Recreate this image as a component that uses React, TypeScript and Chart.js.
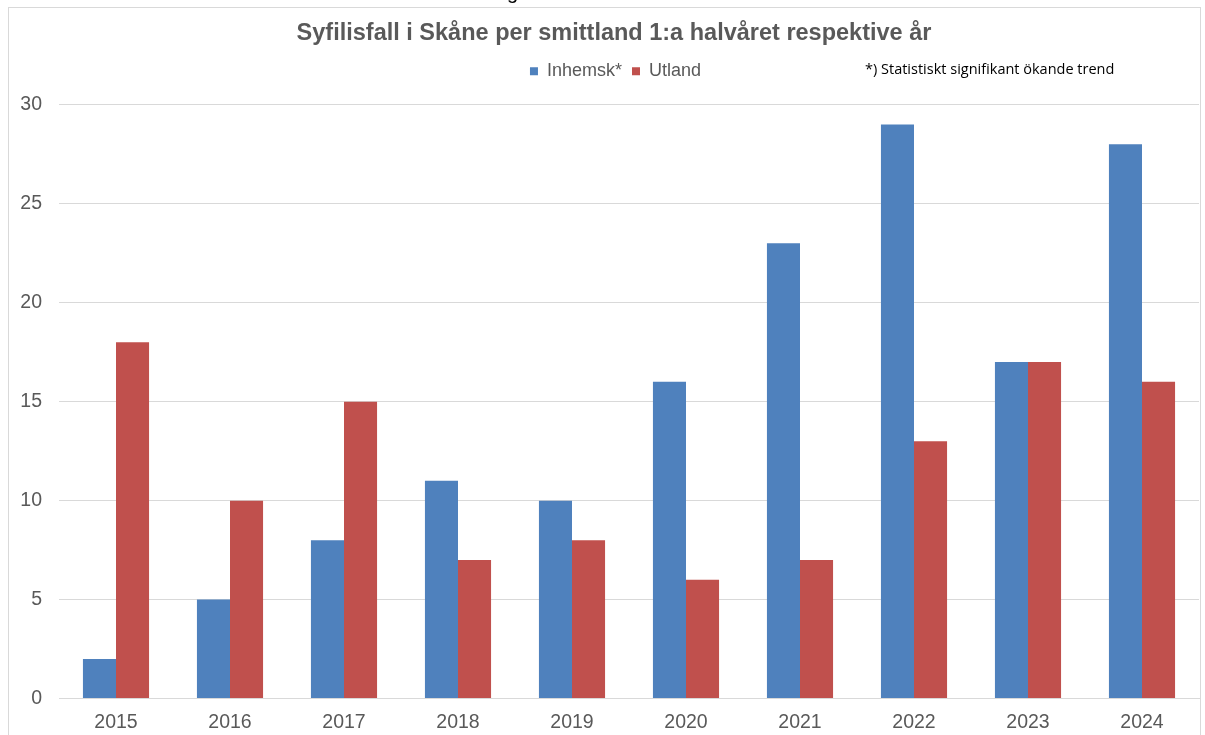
import React, { useEffect, useRef } from "react";
import { Chart, registerables } from "chart.js";

Chart.register(...registerables);

const years = ["2015", "2016", "2017", "2018", "2019", "2020", "2021", "2022", "2023", "2024"];
const inhemsk = [2, 5, 8, 11, 10, 16, 23, 29, 17, 28];
const utland = [18, 10, 15, 7, 8, 6, 7, 13, 17, 16];
const seriesNames = ["Inhemsk*", "Utland"];
const titleText = "Syfilisfall i Skåne per smittland 1:a halvåret respektive år";
const noteText = "*) Statistiskt signifikant ökande trend";
const cutText = "g";

const FONT = "'Liberation Sans', Arial, sans-serif";

const tweaks = {
  id: "tweaks",
  beforeLayout(chart: any) {
    const lg = chart.legend;
    if (lg && !lg.__patched) {
      const f = lg.fit.bind(lg);
      lg.fit = function () {
        f();
        this.height += 14.5;
      };
      lg.__patched = true;
    }
  },
  afterLayout(chart: any) {
    const t = chart.titleBlock;
    if (t) {
      t.left += 14.5;
      t.right += 14.5;
    }
    const lg = chart.legend;
    if (lg) {
      lg.left += 16;
      lg.right += 16;
    }
  },
  afterDraw(chart: any) {
    const ctx = chart.ctx;
    ctx.save();
    ctx.font = "14.5px 'Open Sans'";
    ctx.fillStyle = "#000000";
    ctx.textBaseline = "middle";
    ctx.textAlign = "left";
    ctx.fillText(noteText, 865, 70);
    ctx.font = "20px " + FONT;
    ctx.textBaseline = "alphabetic";
    ctx.fillText(cutText, 507, -1);
    ctx.restore();
  },
};

export default function App() {
  const ref = useRef<HTMLCanvasElement>(null);
  useEffect(() => {
    document.body.style.margin = "0";
    document.body.style.overflow = "hidden";
    const chart = new Chart(ref.current!, {
      type: "bar",
      data: {
        labels: years,
        datasets: [
          { label: seriesNames[0], data: inhemsk, backgroundColor: "#4F81BD", barPercentage: 1, categoryPercentage: 0.58 },
          { label: seriesNames[1], data: utland, backgroundColor: "#C0504D", barPercentage: 1, categoryPercentage: 0.58 },
        ],
      },
      options: {
        animation: false,
        responsive: false,
        layout: { padding: { left: 0, right: 6, top: 0, bottom: -3 } },
        plugins: {
          title: {
            display: true,
            text: titleText,
            color: "#595959",
            font: { family: FONT, size: 23.5, weight: "bold" },
            padding: { top: 19, bottom: 5 },
          },
          legend: {
            display: true,
            labels: {
              boxWidth: 8,
              boxHeight: 8,
              color: "#595959",
              font: { family: FONT, size: 18 },
              padding: 10,
            },
          },
          tooltip: { enabled: false },
        },
        scales: {
          x: {
            grid: { display: false },
            border: { display: true, color: "#d9d9d9" },
            ticks: { color: "#595959", font: { family: FONT, size: 19.5 }, padding: 4 },
          },
          y: {
            min: 0,
            max: 30,
            ticks: { stepSize: 5, color: "#595959", font: { family: FONT, size: 19.5 }, padding: 17 },
            grid: { color: "#d9d9d9", drawTicks: false },
            border: { display: false },
            afterFit: (s: any) => {
              s.width = 59;
            },
          },
        },
      },
      plugins: [tweaks],
    });
    return () => chart.destroy();
  }, []);
  return (
    <div style={{ position: "fixed", left: 0, top: 0, width: 1205, height: 735, background: "#fff", overflow: "hidden" }}>
      <div style={{ position: "absolute", left: 8, top: 7, width: 1191, height: 800, border: "1px solid #d9d9d9" }} />
      <canvas ref={ref} width={1205} height={735} style={{ position: "absolute", left: 0, top: 0 }} />
    </div>
  );
}
